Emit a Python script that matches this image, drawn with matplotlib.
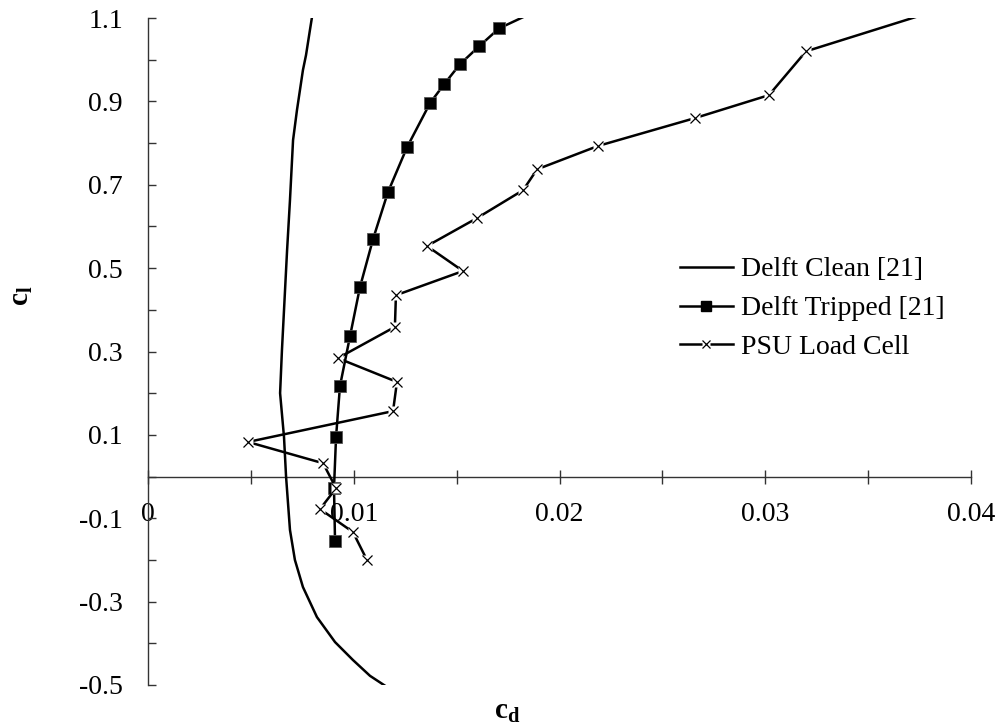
import matplotlib
matplotlib.use('Agg')
import matplotlib.pyplot as plt
from matplotlib.lines import Line2D
from matplotlib.ticker import FixedLocator, FuncFormatter

plt.rcParams['font.family'] = ['Liberation Serif', 'DejaVu Serif']
plt.rcParams['mathtext.fontset'] = 'custom'
plt.rcParams['mathtext.rm'] = 'Liberation Serif'
plt.rcParams['mathtext.bf'] = 'Liberation Serif:bold'

# Delft clean (no markers)
clean_cd = [0.01162, 0.01079, 0.00996, 0.00909, 0.00821, 0.00753, 0.00714, 0.00690,
            0.00671, 0.00661, 0.00642, 0.00651, 0.00676, 0.00690, 0.00705, 0.00724,
            0.00753, 0.00768, 0.00787, 0.00797]
clean_cl = [-0.505, -0.478, -0.440, -0.397, -0.337, -0.265, -0.200, -0.128,
            0.0, 0.095, 0.200, 0.303, 0.543, 0.663, 0.807, 0.879,
            0.975, 1.011, 1.071, 1.102]

# Delft tripped (squares)
trip_cd = [0.00909, 0.00904, 0.00914, 0.00933, 0.00982, 0.01030, 0.01094, 0.01166,
           0.01259, 0.01371, 0.01439, 0.01516, 0.01609, 0.01706, 0.0190]
trip_cl = [-0.155, -0.027, 0.095, 0.217, 0.337, 0.454, 0.570, 0.682,
           0.790, 0.896, 0.941, 0.989, 1.032, 1.075, 1.12]

# PSU load cell (x markers)
psu_cd = [0.01064, 0.00996, 0.00836, 0.00914, 0.00851, 0.00486, 0.01191, 0.01210,
          0.00923, 0.01200, 0.01205, 0.01531, 0.01356, 0.01599, 0.01823, 0.01891,
          0.02187, 0.02659, 0.03018, 0.03198, 0.0391]
psu_cl = [-0.200, -0.133, -0.078, -0.028, 0.032, 0.083, 0.157, 0.227,
          0.284, 0.359, 0.435, 0.493, 0.553, 0.620, 0.687, 0.737,
          0.793, 0.860, 0.915, 1.020, 1.13]

x_major = [0, 0.01, 0.02, 0.03, 0.04]
x_minor = [0.005, 0.015, 0.025, 0.035]
y_major = [-0.5, -0.3, -0.1, 0.1, 0.3, 0.5, 0.7, 0.9, 1.1]
y_minor = [-0.4, -0.2, 0.0, 0.2, 0.4, 0.6, 0.8, 1.0]

fig = plt.figure(figsize=(10.01, 7.26), dpi=100)
ax = fig.add_axes([148/1001, 41/726, 823/1001, 667/726])

lw = 1.8
ax.plot(clean_cd, clean_cl, color='black', lw=lw, zorder=3)
ax.plot(trip_cd, trip_cl, color='black', lw=lw, marker='s', ms=8.5,
        mfc='black', mec='#555555', mew=0.6, zorder=4)
ax.plot(psu_cd, psu_cl, color='black', lw=lw, zorder=5)
ax.plot(psu_cd, psu_cl, ls='none', marker='s', ms=6.5, mfc='white', mec='none', zorder=6)
ax.plot(psu_cd, psu_cl, ls='none', marker='x', ms=7.5, mec='black', mew=0.9, zorder=7)

ax.set_xlim(0, 0.04)
ax.set_ylim(-0.5, 1.1)

for s in ['top', 'right']:
    ax.spines[s].set_visible(False)
ax.spines['bottom'].set_position(('data', 0))
for s in ['bottom', 'left']:
    ax.spines[s].set_color('#333333')
    ax.spines[s].set_linewidth(1.0)

ax.xaxis.set_major_locator(FixedLocator(x_major))
ax.xaxis.set_minor_locator(FixedLocator(x_minor))
ax.yaxis.set_major_locator(FixedLocator(y_major))
ax.yaxis.set_minor_locator(FixedLocator(y_minor))
ax.xaxis.set_major_formatter(FuncFormatter(lambda v, p: '0' if v == 0 else f'{v:g}'))
ax.yaxis.set_major_formatter(FuncFormatter(lambda v, p: f'{v:.1f}'))

ax.tick_params(axis='x', which='both', direction='inout', length=10, width=1,
               color='#333333', labelsize=20, pad=13)
ax.tick_params(axis='y', which='both', direction='in', length=6, width=1,
               color='#333333', labelsize=20, pad=18)

fig.text(0.022, 0.592, r'$\mathbf{c_l}$', rotation=90, fontsize=21,
         ha='center', va='center')
fig.text(0.5065, 0.019, r'$\mathbf{c_d}$', fontsize=21, ha='center', va='center')

h_clean = Line2D([], [], color='black', lw=lw)
h_trip = Line2D([], [], color='black', lw=lw, marker='s', ms=7, mfc='black', mec='black')
h_psu_line = Line2D([], [], color='black', lw=lw)
h_psu_bg = Line2D([], [], ls='none', marker='s', ms=5.5, mfc='white', mec='none')
h_psu_x = Line2D([], [], ls='none', marker='x', ms=6, mec='black', mew=0.9)
fig.legend([h_clean, h_trip, (h_psu_line, h_psu_bg, h_psu_x)],
           ['Delft Clean [21]', 'Delft Tripped [21]', 'PSU Load Cell'],
           loc='upper left', bbox_to_anchor=(680/1001, 1-257/726),
           frameon=False, fontsize=20, borderpad=0, borderaxespad=0,
           handlelength=1.9, handletextpad=0.3, labelspacing=0.48)

fig.savefig('out.png', dpi=100)
